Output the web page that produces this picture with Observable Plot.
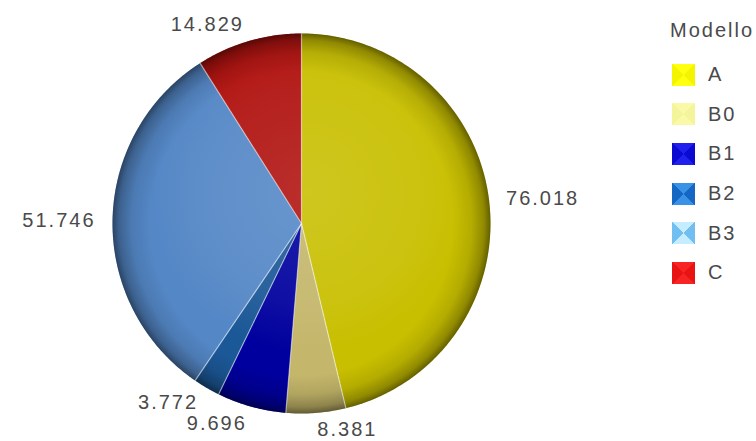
<!DOCTYPE html>
<html>
<head>
<meta charset="utf-8">
<script src="https://cdn.jsdelivr.net/npm/d3@7"></script>
<script src="https://cdn.jsdelivr.net/npm/@observablehq/plot@0.6"></script>
<style>
  html, body { margin: 0; padding: 0; background: #ffffff; }
  #wrap { position: relative; width: 756px; height: 441px; overflow: hidden; font-family: "Liberation Sans", Arial, sans-serif; }
  #chart { position: absolute; left: 0; top: 0; }
  #legend { position: absolute; left: 672px; top: 16px; color: #4a4a4a; font-size: 20px; letter-spacing: 2px; }
  #legend .title { height: 28px; line-height: 28px; margin-left: -2px; }
  #legend .items { margin-top: 11px; }
  #legend .row { height: 39.6px; display: flex; align-items: center; }
  #legend .sw { width: 23px; height: 22px; margin-right: 13px; }
</style>
</head>
<body>
<div id="wrap">
  <div id="chart"></div>
  <div id="legend"></div>
</div>
<script>
// ---- data ----
const legendTitle = "Modello";
const categories = ["A", "B0", "B1", "B2", "B3", "C"];
const values = [76.018, 8.381, 9.696, 3.772, 51.746, 14.829];
const pieColors = ["#c8bf00", "#c4b66a", "#00009e", "#1b5897", "#5487c6", "#b0120f"];
const swatchLight = ["#ffff10", "#f9f9a8", "#2020ee", "#3a92e6", "#c6ecff", "#f82424"];
const swatchDark = ["#f4f400", "#f4f49a", "#0a0ad0", "#1468c4", "#70bff0", "#e81414"];

// ---- geometry from data ----
const arcs = d3.pie().sort(null).value(d => d)(values);
const slicePts = [];
arcs.forEach((a, i) => {
  const cat = categories[i];
  slicePts.push({cat, x: 0, y: 0});
  const n = Math.max(4, Math.ceil((a.endAngle - a.startAngle) / 0.01));
  for (let k = 0; k <= n; k++) {
    const t = a.startAngle + (a.endAngle - a.startAngle) * k / n;
    slicePts.push({cat, x: Math.sin(t), y: Math.cos(t)});
  }
  slicePts.push({cat, x: 0, y: 0});
});
const circlePts = d3.range(0, 361).map(d => ({x: Math.sin(d * Math.PI / 180), y: Math.cos(d * Math.PI / 180)}));
const borders = arcs.map(a => ({x2: Math.sin(a.startAngle), y2: Math.cos(a.startAngle)}));
const labelR = 1.09;
const labels = arcs.map((a, i) => {
  const m = (a.startAngle + a.endAngle) / 2;
  return {x: labelR * Math.sin(m), y: labelR * Math.cos(m), text: d3.format(".3f")(values[i]), right: Math.sin(m) >= 0};
});

const plot = Plot.plot({
  width: 756,
  height: 441,
  x: {domain: [-1, 1], range: [112, 490], axis: null},
  y: {domain: [-1, 1], range: [413, 33], axis: null},
  color: {domain: categories, range: pieColors},
  style: {background: "transparent", fontFamily: "Liberation Sans, Arial, sans-serif"},
  marks: [
    Plot.line(slicePts, {x: "x", y: "y", z: "cat", fill: "cat", stroke: "none", curve: "linear"}),
    Plot.line(circlePts, {x: "x", y: "y", fill: "url(#shadeRim)", stroke: "none"}),
    Plot.line(circlePts, {x: "x", y: "y", fill: "url(#shadeGloss)", stroke: "none"}),
    Plot.link(borders, {x1: 0, y1: 0, x2: "x2", y2: "y2", stroke: "#ffffff", strokeOpacity: 0.5, strokeWidth: 1.2}),
    Plot.text(labels.filter(d => d.right), {x: "x", y: "y", text: "text", textAnchor: "start", fontSize: 20, fill: "#4a4a4a", lineAnchor: "middle"}),
    Plot.text(labels.filter(d => !d.right), {x: "x", y: "y", text: "text", textAnchor: "end", fontSize: 20, fill: "#4a4a4a", lineAnchor: "middle"})
  ]
});

const svg = d3.select(plot);
svg.selectAll("text").style("letter-spacing", "2px");
const defs = svg.insert("defs", ":first-child");
const rim = defs.append("radialGradient").attr("id", "shadeRim").attr("cx", 0.5).attr("cy", 0.5).attr("r", 0.5);
[[0, "#ffffff", 0.0], [0.8, "#000000", 0.0], [0.9, "#000000", 0.1], [0.965, "#000000", 0.28], [1, "#000000", 0.5]]
  .forEach(([o, c, a]) => rim.append("stop").attr("offset", o).attr("stop-color", c).attr("stop-opacity", a));
const gloss = defs.append("radialGradient").attr("id", "shadeGloss").attr("cx", 0.52).attr("cy", 0.42).attr("r", 0.42);
[[0, "#ffffff", 0.12], [0.7, "#ffffff", 0.06], [1, "#ffffff", 0]]
  .forEach(([o, c, a]) => gloss.append("stop").attr("offset", o).attr("stop-color", c).attr("stop-opacity", a));

document.getElementById("chart").appendChild(plot);

// ---- legend ----
const lg = d3.select("#legend");
lg.append("div").attr("class", "title").text(legendTitle);
const items = lg.append("div").attr("class", "items");
categories.forEach((c, i) => {
  const row = items.append("div").attr("class", "row");
  row.append("div").attr("class", "sw")
    .style("background", `conic-gradient(from -45deg, ${swatchLight[i]} 0 25%, ${swatchDark[i]} 0 50%, ${swatchLight[i]} 0 75%, ${swatchDark[i]} 0)`);
  row.append("span").text(c);
});
</script>
</body>
</html>
